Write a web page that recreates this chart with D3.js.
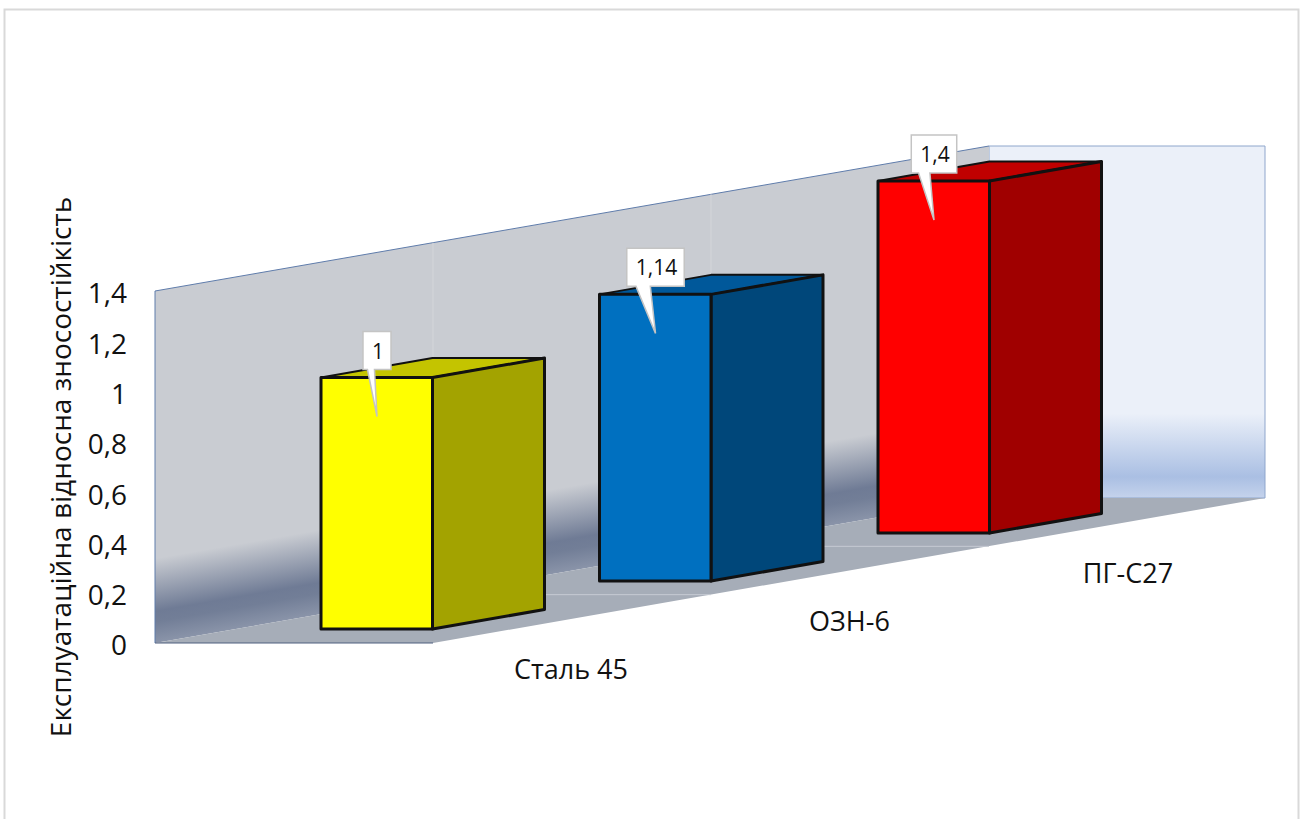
<!DOCTYPE html>
<html><head><meta charset="utf-8">
<script src="https://cdn.jsdelivr.net/npm/d3@7"></script>
<style>html,body{margin:0;padding:0;background:#fff;overflow:hidden}svg{display:block}text{font-family:"Open Sans",sans-serif;fill:#111}</style>
</head><body><svg id="c" width="1304" height="819"></svg>
<script>
const categories = ["Сталь 45", "ОЗН-6", "ПГ-С27"];
const values = [1, 1.14, 1.4];
const tickValues = [0, 0.2, 0.4, 0.6, 0.8, 1, 1.2, 1.4];
const frontColors = ["#ffff00", "#0070c0", "#ff0000"];
const topColors = ["#c4c400", "#00589a", "#c00000"];
const sideColors = ["#a3a300", "#00477a", "#a00000"];
const yTitle = "Експлуатаційна відносна зносостійкість";
const fmt = d => String(d).replace(".", ",");

const svg = d3.select("#c");
const defs = svg.append("defs");
// layout of the 3D box
const L = 155, B = 643, T = 291, wallW = 834, rise = 145, floorW = 278, barDX = 112, barDY = 19.5;
const shear = -rise / wallW;
const y = d3.scaleLinear().domain([0, 1.4]).range([B, T]);
const barX = d3.scalePoint().domain(categories).range([321, 878]);
const barBase = d3.scalePoint().domain(categories).range([629, 533]);
const path = pts => "M" + pts.map(p => p.join(",")).join("L") + "Z";

function grad(id, stops, tr, h) {
  const g = defs.append("linearGradient").attr("id", id).attr("gradientUnits", "userSpaceOnUse")
    .attr("x1", 0).attr("y1", 0).attr("x2", 0).attr("y2", h);
  if (tr) g.attr("gradientTransform", tr);
  stops.forEach(s => g.append("stop").attr("offset", s[0]).attr("stop-color", s[1]));
}
grad("wallG", [[0, "#c9ccd2"], [0.76, "#c9ccd2"], [0.91, "#6f7b95"], [0.94, "#727e97"], [1, "#8a94a9"]],
  `matrix(1 ${shear} 0 1 ${L} ${T})`, B - T);
grad("sideG", [[0, "#ebf0f9"], [0.76, "#ebf0f9"], [0.94, "#aabfe3"], [1, "#c5d3ec"]],
  `matrix(1 0 0 1 0 ${T - rise})`, B - T);

// frame
svg.append("path").attr("d", "M4.5,819V9.5H1298.5V819").attr("fill", "none").attr("stroke", "#d9d9d9").attr("stroke-width", 2);

const bx = L + wallW, bBottom = B - rise, bTop = T - rise;
// side wall
svg.append("path").attr("d", path([[bx, bTop], [bx + 276, bTop], [bx + 276, bBottom], [bx, bBottom]]))
  .attr("fill", "url(#sideG)").attr("stroke", "#8fa6cc").attr("stroke-width", 1);
// back wall
svg.append("path").attr("d", path([[L, T], [bx, bTop], [bx, bBottom], [L, B]])).attr("fill", "url(#wallG)");
svg.append("path").attr("d", `M${L},${B}L${L},${T}L${bx},${bTop}`).attr("fill", "none").attr("stroke", "#5f7cab").attr("stroke-width", 1);
// floor
svg.append("path").attr("d", path([[L, B], [L + floorW, B], [bx + 276, bBottom], [bx, bBottom]])).attr("fill", "#a6adb8");
svg.append("path").attr("d", `M${L},${B}H${L + floorW}`).attr("stroke", "#4f5f7e").attr("stroke-width", 1);

// category gridlines on wall and floor
categories.slice(1).forEach((c, i) => {
  const f = (i + 1) / categories.length;
  const wx = L + wallW * f, wy = B - rise * f;
  svg.append("line").attr("x1", wx).attr("x2", wx).attr("y1", wy).attr("y2", wy - (B - T)).attr("stroke", "#d4d6da").attr("stroke-width", 1);
  svg.append("line").attr("x1", wx).attr("x2", wx + floorW).attr("y1", wy).attr("y2", wy).attr("stroke", "#c6cbd3").attr("stroke-width", 1);
});

// bars
const bars = svg.selectAll("g.bar").data(categories).join("g").attr("class", "bar");
bars.each(function (c, i) {
  const g = d3.select(this), x0 = barX(c), x1 = x0 + barDX - 0.5, b = barBase(c), t = b - (y(0) - y(values[i]));
  const x2 = x1 + barDX;
  const face = (pts, fill, w) => g.append("path").attr("d", path(pts)).attr("fill", fill)
    .attr("stroke", "#111").attr("stroke-linejoin", "round").attr("stroke-width", w);
  face([[x0, t], [x1, t], [x2, t - barDY], [x1, t - barDY]], topColors[i], 2);
  face([[x1, t], [x2, t - barDY], [x2, b - barDY], [x1, b]], sideColors[i], 3);
  face([[x0, t], [x1, t], [x1, b], [x0, b]], frontColors[i], 3);
});

// y axis
const axis = d3.axisLeft(y).tickValues(tickValues).tickFormat(fmt).tickSize(0).tickPadding(0);
const ag = svg.append("g").attr("transform", "translate(127,3)").call(axis);
ag.select(".domain").remove();
ag.selectAll("text").attr("font-size", 28).attr("fill", "#111").style("font-family", '"Open Sans",sans-serif');

// y title
svg.append("text").attr("transform", "translate(60,467) rotate(-90)").attr("text-anchor", "middle")
  .attr("dominant-baseline", "central").attr("font-size", 28).text(yTitle);

// category labels
categories.forEach((c, i) => {
  svg.append("text").attr("x", barX(c) + barDX + 138).attr("y", barBase(c) + 50)
    .attr("text-anchor", "middle").attr("font-size", 27).text(c);
});

// callouts
values.forEach((v, i) => {
  const c = categories[i], cx = barX(c) + barDX / 2, t = barBase(c) - (y(0) - y(v));
  const g = svg.append("g");
  const txt = g.append("text").attr("x", cx + 1).attr("y", t - 27).attr("text-anchor", "middle")
    .attr("dominant-baseline", "central").attr("font-size", 21).text(fmt(v));
  const w = txt.node().getComputedTextLength() + 16, top = t - 46, bot = t - 8;
  g.insert("path", "text").attr("d", path([
    [cx - w / 2, top], [cx + w / 2, top], [cx + w / 2, bot], [cx - 0.09 * w, bot],
    [cx, t + 39], [cx - 0.34 * w, bot], [cx - w / 2, bot]
  ])).attr("fill", "#fff").attr("stroke", "#c4c4c4").attr("stroke-width", 1.5);
});
</script></body></html>
